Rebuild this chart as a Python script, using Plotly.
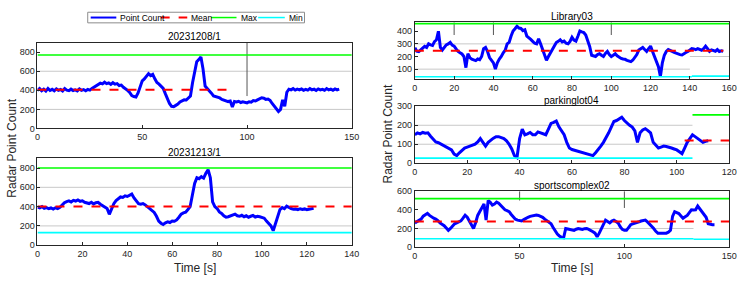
import plotly.graph_objects as go

# ---------------- data ----------------
titles = ["20231208/1", "20231213/1", "Library03", "parkinglot04", "sportscomplex02"]
legend_names = ["Point Count", "Mean", "Max", "Min"]

v1 = [400,418,395,412,392,420,398,410,395,415,400,408,392,418,402,396,412,398,405,394,415,400,408,396,410,402,
      420,435,450,462,475,468,485,470,478,462,480,465,470,450,455,432,420,400,378,345,335,330,372,440,500,520,545,
      575,555,568,520,482,465,440,420,365,310,262,232,228,242,255,278,285,300,298,325,340,480,605,700,722,750,625,
      445,420,398,370,342,335,330,320,305,298,290,282,288,225,282,278,285,272,280,275,268,280,275,292,288,300,312,
      322,318,305,308,295,262,230,200,178,200,300,232,380,412,405,418,402,412,405,415,400,410,402,418,405,412,398,
      415,405,410,400,418,404,412,400,415,405,412]
t1 = list(range(len(v1)))

v2 = [395,388,400,382,390,378,386,375,388,380,392,420,440,452,460,448,465,458,470,455,460,445,440,432,445,428,440,
      445,425,412,400,380,320,380,430,462,485,500,495,512,505,520,530,490,455,430,425,432,418,400,385,360,340,300,
      250,228,215,232,242,235,250,248,262,290,322,335,342,370,400,520,640,700,690,710,695,745,782,700,450,400,380,
      345,330,305,290,295,302,310,322,305,300,310,295,305,290,300,308,292,300,295,288,280,250,228,200,150,220,300,
      370,390,378,405,390,380,372,375,368,378,370,376,368,372,378,382]
t2 = list(range(len(v2)))

v3 = [270,242,238,252,262,280,272,300,292,288,318,332,400,272,252,270,292,300,312,290,282,260,240,230,220,200,112,
      222,192,178,170,168,180,175,200,262,272,240,192,170,150,100,150,180,200,230,250,300,312,362,402,420,440,425,
      422,405,412,362,345,335,320,305,300,340,300,250,200,170,200,230,262,290,310,320,332,315,322,305,300,320,352,
      330,322,360,402,395,390,370,332,280,210,205,200,215,222,210,200,225,240,215,200,210,222,205,192,185,180,178,
      170,165,160,172,192,215,252,262,272,255,240,262,282,240,200,170,120,42,150,210,240,255,250,240,232,225,222,
      215,212,225,232,240,250,262,260,255,262,258,250,262,282,262,240,252,250,242,255,240,245,242]
t3 = list(range(len(v3)))

v4 = [150,160,155,162,158,160,142,125,112,108,100,92,82,75,70,48,40,55,68,80,85,90,95,100,112,130,110,90,110,122,
      132,140,140,135,130,118,100,75,40,30,130,180,150,155,162,150,150,165,160,155,150,180,210,215,222,192,170,150,
      110,80,72,68,65,60,58,55,50,45,40,55,70,90,110,132,160,190,220,225,232,242,225,210,200,190,170,110,160,175,
      182,172,160,110,92,80,85,90,88,82,80,75,70,60,50,80,110,130,150,140,130,120,110,115,118]
t4 = list(range(len(v4)))

v5 = [260,272,280,300,332,345,362,340,320,310,300,285,260,248,230,205,180,200,232,250,260,272,282,310,342,320,280,
      240,200,262,340,382,420,462,290,500,480,450,462,482,470,450,425,400,392,380,350,320,300,290,285,280,295,310,
      320,330,335,342,345,340,332,320,300,280,265,250,210,170,140,120,105,100,200,195,190,185,180,192,200,195,190,
      198,200,190,180,165,150,110,150,200,250,290,275,260,280,290,275,260,220,190,180,180,210,240,250,260,265,272,
      280,285,290,270,250,225,200,170,150,150,152,148,150,160,180,330,380,370,360,335,310,325,340,370,400,398,400,
      440,410,390,355,320,250,242,240,240]
t5 = list(range(len(v5)))

times = [t1, t2, t3, t4, t5]
counts = [v1, v2, v3, v4, v5]

# reference levels: [start, end, level]
mean_lines = [[[0, 93, 405]], [[0, 140, 400]], [[0, 157, 245]], [[103, 120, 120]], [[0, 150, 275]]]
max_lines = [[[0, 150, 770]], [[0, 140, 800]], [[0, 160, 460]], [[106, 120, 255]], [[0, 150, 520]]]
min_lines = [[], [[0, 140, 130]], [[0, 141, 40], [141, 160, 45]], [[0, 106, 27]], [[0, 133, 90], [133, 150, 85]]]

x_ranges = [[0, 150], [0, 140], [0, 160], [0, 120], [0, 150]]
y_ranges = [[0, 900], [0, 900], [20, 470], [0, 300], [0, 600]]
x_ticks = [[0, 50, 100, 150], [0, 20, 40, 60, 80, 100, 120, 140], [0, 20, 40, 60, 80, 100, 120, 140, 160],
           [0, 20, 40, 60, 80, 100, 120], [0, 50, 100, 150]]
y_ticks = [[0, 200, 400, 600, 800], [0, 200, 400, 600, 800], [100, 200, 300, 400], [0, 100, 200, 300],
           [0, 200, 400, 600]]
# partial light grid lines [x0, x1, y]
grid_lines = [[[0, 150, 200], [0, 150, 600]], [[0, 140, 200], [0, 140, 600]],
              [[0, 140, 100], [0, 140, 300], [140, 160, 200]], [[0, 106, 100], [0, 106, 200], [106, 120, 100]],
              [[0, 133, 200]]]
# short dark vertical marks [x, y0, y1]
vmarks = [[[100, 340, 900]], [], [[20, 370, 470], [40, 370, 470], [100, 370, 470]], [],
          [[50, 500, 600], [100, 420, 600]]]

# ---------------- layout geometry ----------------
W, H = 747, 283
boxes = [  # (x0px, x1px, ytop_px, ybot_px)
    (35, 354, 39, 128),
    (35, 354, 159, 249),
    (418, 737, 18, 77),
    (418, 737, 105, 164),
    (418, 737, 193, 251),
]

FONT = "Liberation Sans, Arial, sans-serif"
AX = "#262626"
C_PC, C_MEAN, C_MAX, C_MIN = "#0000ff", "#ff0000", "#00ff00", "#00ffff"
fig = go.Figure()
layout = dict(width=W, height=H, margin=dict(l=0, r=0, t=0, b=0),
              paper_bgcolor="white", plot_bgcolor="white",
              font=dict(family=FONT, size=9, color=AX),
              showlegend=False, shapes=[], annotations=[])

for i in range(5):
    x0, x1, yt, yb = boxes[i]
    xa = "xaxis" if i == 0 else f"xaxis{i+1}"
    ya = "yaxis" if i == 0 else f"yaxis{i+1}"
    xr = "x" if i == 0 else f"x{i+1}"
    yr = "y" if i == 0 else f"y{i+1}"
    layout[xa] = dict(domain=[x0 / W, x1 / W], anchor=yr, range=x_ranges[i], tickvals=x_ticks[i],
                      showline=True, mirror=True, linecolor=AX, linewidth=1, ticks="inside", ticklen=3,
                      tickcolor=AX, showgrid=False, zeroline=False, tickfont=dict(size=9))
    layout[ya] = dict(domain=[1 - yb / H, 1 - yt / H], anchor=xr, range=y_ranges[i], tickvals=y_ticks[i],
                      showline=True, mirror=True, linecolor=AX, linewidth=1, ticks="inside", ticklen=3,
                      tickcolor=AX, showgrid=False, zeroline=False, tickfont=dict(size=9))
    for gx0, gx1, gy in grid_lines[i]:
        layout["shapes"].append(dict(type="line", xref=xr, yref=yr, x0=gx0, x1=gx1, y0=gy, y1=gy,
                                     line=dict(color="#c8c8c8", width=1), layer="below"))
    for vx, vy0, vy1 in vmarks[i]:
        layout["shapes"].append(dict(type="line", xref=xr, yref=yr, x0=vx, x1=vx, y0=vy0, y1=vy1,
                                     line=dict(color="#555555", width=1), layer="below"))
    fig.add_trace(go.Scatter(x=times[i], y=counts[i], mode="lines", name="Point Count",
                             line=dict(color=C_PC, width=3), xaxis=xr, yaxis=yr))
    for a, b, lv in mean_lines[i]:
        fig.add_trace(go.Scatter(x=[a, b], y=[lv, lv], mode="lines", name="Mean",
                                 line=dict(color=C_MEAN, width=2, dash="dash"), xaxis=xr, yaxis=yr))
    for a, b, lv in max_lines[i]:
        fig.add_trace(go.Scatter(x=[a, b], y=[lv, lv], mode="lines", name="Max",
                                 line=dict(color=C_MAX, width=1.6), xaxis=xr, yaxis=yr))
    for a, b, lv in min_lines[i]:
        fig.add_trace(go.Scatter(x=[a, b], y=[lv, lv], mode="lines", name="Min",
                                 line=dict(color=C_MIN, width=1.6), xaxis=xr, yaxis=yr))
    layout["annotations"].append(dict(text=titles[i], xref="paper", yref="paper",
                                      x=(x0 + x1) / 2 / W, y=1 - (yt - 6) / H, xanchor="center",
                                      yanchor="middle", showarrow=False,
                                      font=dict(size=10, family=FONT, color="#000")))

# ---- custom compact legend (MATLAB style) ----
layout["shapes"].append(dict(type="rect", xref="paper", yref="paper", x0=86 / W, x1=306 / W,
                             y0=1 - 18.5 / H, y1=1 - 7.5 / H, line=dict(color="#8c8c8c", width=1),
                             fillcolor="white"))
leg_items = [  # (line x0, line x1, text x)
    (89, 115, 117), (160, 187, 189), (211, 237, 240), (259, 286, 288)]
leg_styles = [dict(color=C_PC, width=2), dict(color=C_MEAN, width=2, dash="dash"),
              dict(color=C_MAX, width=1.5), dict(color=C_MIN, width=1.5)]
for (lx0, lx1, tx), st, nm in zip(leg_items, leg_styles, legend_names):
    layout["shapes"].append(dict(type="line", xref="paper", yref="paper", x0=lx0 / W, x1=lx1 / W,
                                 y0=1 - 13 / H, y1=1 - 13 / H, line=st))
    layout["annotations"].append(dict(text=nm, xref="paper", yref="paper", x=tx / W, y=1 - 13 / H,
                                      xanchor="left", yanchor="middle", showarrow=False,
                                      font=dict(size=8.5, family=FONT, color="#000")))

# axis labels
layout["annotations"] += [
    dict(text="Radar Point Count", xref="paper", yref="paper", x=9 / W, y=1 - 148 / H, textangle=-90,
         showarrow=False, xanchor="center", yanchor="middle", font=dict(size=12, family=FONT, color=AX)),
    dict(text="Radar Point Count", xref="paper", yref="paper", x=391 / W, y=1 - 134 / H, textangle=-90,
         showarrow=False, xanchor="center", yanchor="middle", font=dict(size=12, family=FONT, color=AX)),
    dict(text="Time [s]", xref="paper", yref="paper", x=195 / W, y=1 - 273 / H, showarrow=False,
         xanchor="center", yanchor="middle", font=dict(size=12, family=FONT, color=AX)),
    dict(text="Time [s]", xref="paper", yref="paper", x=578 / W, y=1 - 273 / H, showarrow=False,
         xanchor="center", yanchor="middle", font=dict(size=12, family=FONT, color=AX)),
]

fig.update_layout(**layout)
fig.write_html("out.html")
